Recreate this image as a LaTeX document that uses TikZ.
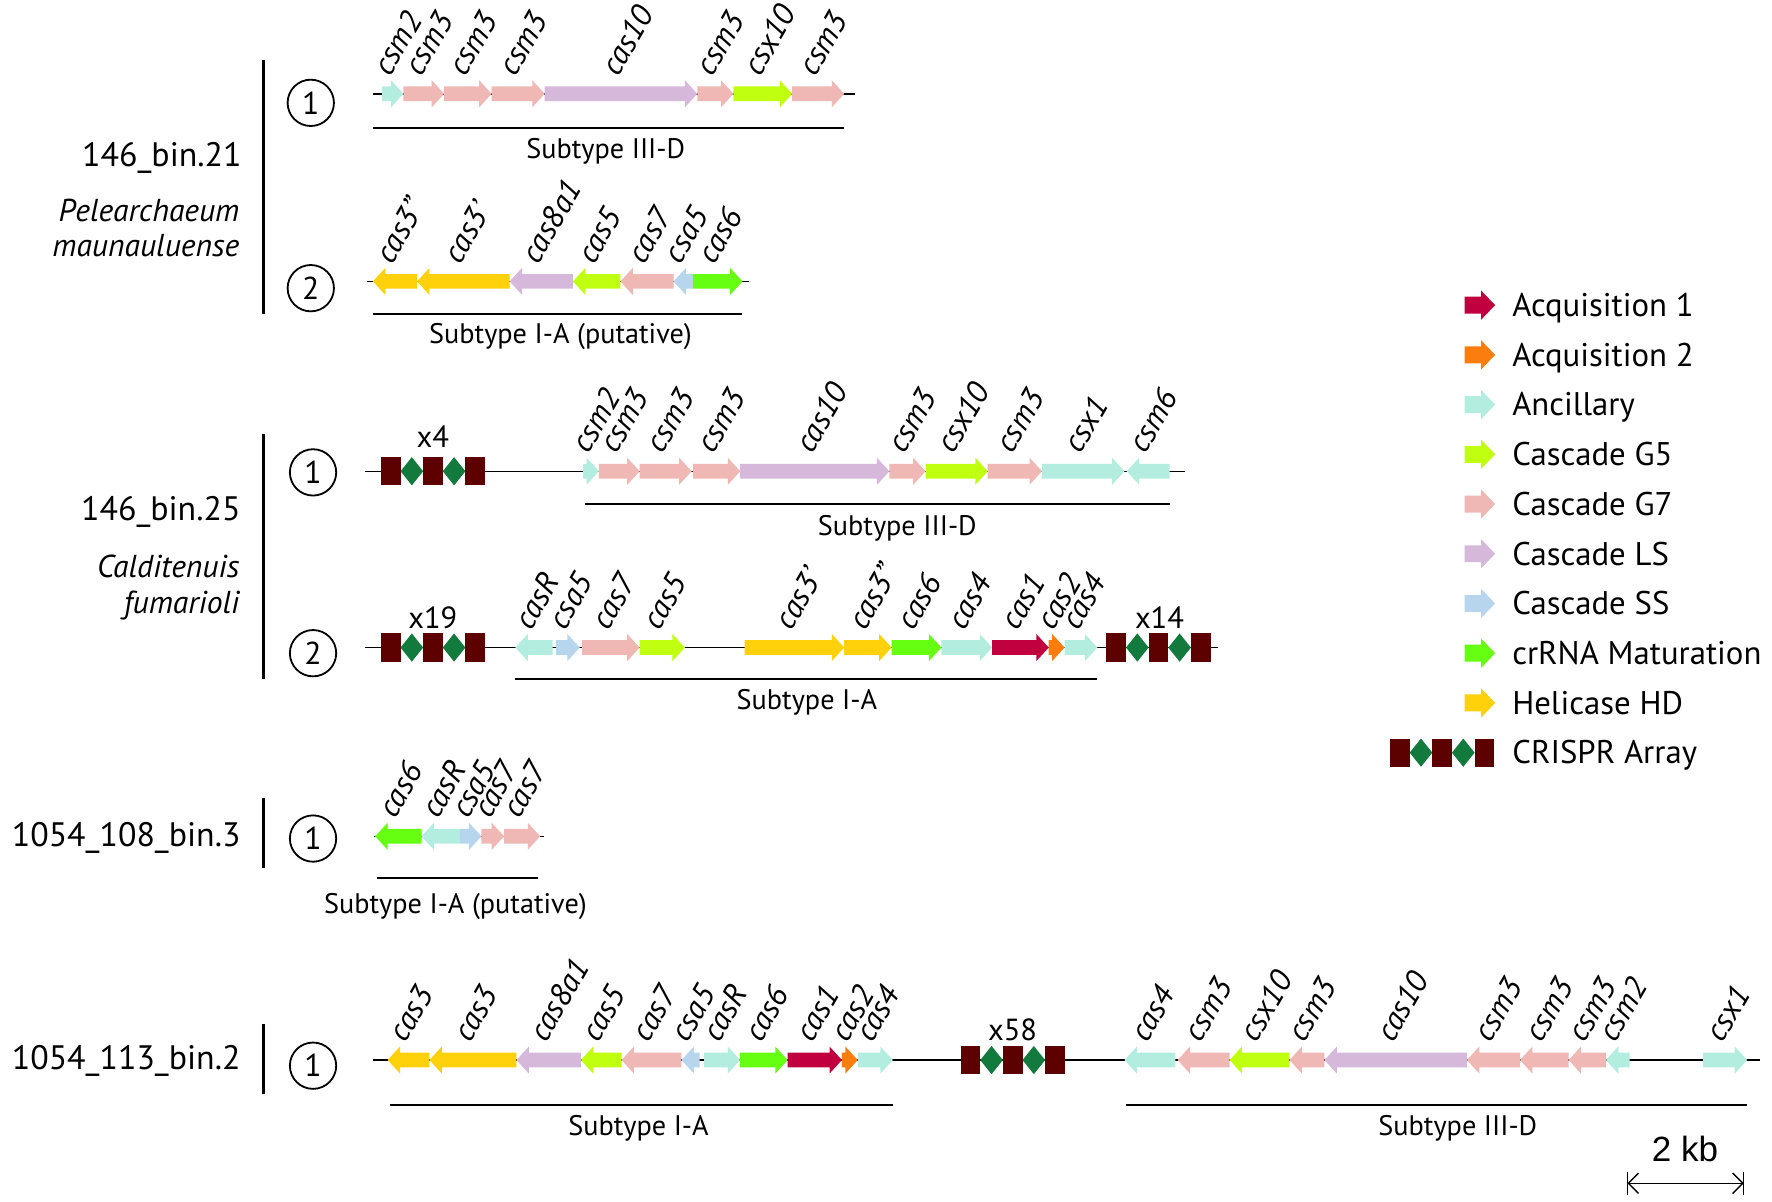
\documentclass[tikz,border=0pt]{standalone}
\usepackage{fontspec}
\setmainfont{PT Sans}
\newfontfamily\arialf{Liberation Sans}
\usetikzlibrary{arrows.meta}
\definecolor{acqA}{HTML}{C1003F}
\definecolor{acqB}{HTML}{FB7D0E}
\definecolor{anc}{HTML}{B3EDE0}
\definecolor{gfive}{HTML}{BFFF0F}
\definecolor{gseven}{HTML}{EFB8B5}
\definecolor{lsc}{HTML}{D6B8DB}
\definecolor{ssc}{HTML}{B8D5EE}
\definecolor{crr}{HTML}{66FF11}
\definecolor{hel}{HTML}{FFD10A}
\definecolor{arrR}{HTML}{5C0000}
\definecolor{arrD}{HTML}{137A3E}
\newcommand\fsz[1]{\fontsize{#1}{#1}\selectfont}
\newcommand\geneR[5]{%
 \fill[#4] (#1,{#3-6.5}) -- ({#2-11},{#3-6.5}) -- ({#2-11},{#3-12}) -- (#2,#3) -- ({#2-11},{#3+12}) -- ({#2-11},{#3+6.5}) -- (#1,{#3+6.5}) -- cycle;
 \node[glabel] at ({(#1+#2)/2-2},{#3-14}) {#5};}
\newcommand\geneL[5]{%
 \fill[#4] (#2,{#3-6.5}) -- ({#1+11},{#3-6.5}) -- ({#1+11},{#3-12}) -- (#1,#3) -- ({#1+11},{#3+12}) -- ({#1+11},{#3+6.5}) -- (#2,{#3+6.5}) -- cycle;
 \node[glabel] at ({(#1+#2)/2-2},{#3-14}) {#5};}
\newcommand\crispr[2]{%
 \fill[arrR] (#1,{#2-12.5}) rectangle ({#1+17.4},{#2+12.5});
 \fill[arrD] ({#1+17.4},#2) -- ({#1+27.4},{#2-12.5}) -- ({#1+37.4},#2) -- ({#1+27.4},{#2+12.5}) -- cycle;
 \fill[arrR] ({#1+37.4},{#2-12.5}) rectangle ({#1+54.8},{#2+12.5});
 \fill[arrD] ({#1+54.8},#2) -- ({#1+64.8},{#2-12.5}) -- ({#1+74.8},#2) -- ({#1+64.8},{#2+12.5}) -- cycle;
 \fill[arrR] ({#1+74.8},{#2-12.5}) rectangle ({#1+92.2},{#2+12.5});}
\newcommand\legarrow[3]{%
 \fill[#2] (1296,{#1-7.5}) -- (1310.5,{#1-7.5}) -- (1310.5,{#1-13}) -- (1323,#1) -- (1310.5,{#1+13}) -- (1310.5,{#1+7.5}) -- (1296,{#1+7.5}) -- cycle;
 \node[legtext] at (1338,{#1+10}) {#3};}
\begin{document}
\begin{tikzpicture}[x=1pt,y=-1pt,
  glabel/.style={rotate=60,anchor=south west,inner sep=0pt,font=\fsz{28}\itshape},
  rowline/.style={line width=1.3pt},
  subline/.style={line width=1.8pt},
  subtext/.style={anchor=base,inner sep=0pt,font=\fsz{25}},
  brk/.style={line width=2.6pt},
  circ/.style={circle,draw,line width=1.6pt,minimum size=41pt,inner sep=0pt,font=\fsz{28}},
  gname/.style={anchor=base east,inner sep=0pt,font=\fsz{30}},
  sname/.style={anchor=base east,inner sep=0pt,font=\fsz{28}\itshape},
  cnt/.style={anchor=base,inner sep=0pt,font=\fsz{27}},
  legtext/.style={anchor=base west,inner sep=0pt,font=\fsz{29}}]
\useasboundingbox[fill=white] (0,0) rectangle (1568,1063);

% ---------- left labels ----------
\node[gname] (n1) at (214,147) {146\_bin.21};
\node[sname] (s1a) at (212,196) {Pelearchaeum};
\node[sname] (s1b) at (212,227) {maunauluense};
\draw[brk] (233,53) -- (233,278);
\node[circ] (c11) at (275,91) {1};
\node[circ] (c12) at (275,255) {2};

\node[gname] (n2) at (213,461) {146\_bin.25};
\node[sname] (s2a) at (212,511) {Calditenuis};
\node[sname] (s2b) at (212,543) {fumarioli};
\draw[brk] (233,384) -- (233,601);
\node[circ] (c21) at (277,418) {1};
\node[circ] (c22) at (277,578) {2};

\node[gname] (n3) at (213,749) {1054\_108\_bin.3};
\draw[brk] (233,706) -- (233,768);
\node[circ] (c31) at (277,742) {1};

\node[gname] (n4) at (213,946) {1054\_113\_bin.2};
\draw[brk] (233,906) -- (233,968);
\node[circ] (c41) at (277,943) {1};

% ---------- row A ----------
\draw[rowline] (330,83) -- (757,83);
\geneR{338}{357}{83}{anc}{csm2}
\geneR{357}{393}{83}{gseven}{csm3}
\geneR{393}{435}{83}{gseven}{csm3}
\geneR{435}{482}{83}{gseven}{csm3}
\geneR{482}{617}{83}{lsc}{cas10}
\geneR{617}{649}{83}{gseven}{csm3}
\geneR{649}{701}{83}{gfive}{csx10}
\geneR{701}{747}{83}{gseven}{csm3}
\draw[subline] (330,113) -- (747,113);
\node[subtext] (tA) at (536,140) {Subtype III-D};

% ---------- row B ----------
\draw[rowline] (325,249) -- (663,249);
\geneL{330}{369}{249}{hel}{cas3"}
\geneL{369}{451}{249}{hel}{cas3'}
\geneL{451}{507}{249}{lsc}{cas8a1}
\geneL{507}{549}{249}{gfive}{cas5}
\geneL{549}{596}{249}{gseven}{cas7}
\geneL{596}{613}{249}{ssc}{csa5}
\geneR{613}{657}{249}{crr}{cas6}
\draw[subline] (330,278) -- (657,278);
\node[subtext] (tB) at (496,304) {Subtype I-A (putative)};

% ---------- row C ----------
\draw[rowline] (323,417) -- (1049,417);
\crispr{337}{417}
\node[cnt] (x4) at (383,396) {x4};
\geneR{516}{530}{417}{anc}{csm2}
\geneR{530}{566}{417}{gseven}{csm3}
\geneR{566}{612}{417}{gseven}{csm3}
\geneR{613}{655}{417}{gseven}{csm3}
\geneR{655}{787}{417}{lsc}{cas10}
\geneR{787}{819}{417}{gseven}{csm3}
\geneR{819}{874}{417}{gfive}{csx10}
\geneR{874}{922}{417}{gseven}{csm3}
\geneR{922}{995}{417}{anc}{csx1}
\geneL{997}{1035}{417}{anc}{csm6}
\draw[subline] (518,446) -- (1035,446);
\node[subtext] (tC) at (794,474) {Subtype III-D};

% ---------- row D ----------
\draw[rowline] (323,573) -- (1078,573);
\crispr{337}{573}
\node[cnt] (x19) at (383,556) {x19};
\crispr{979}{573}
\node[cnt] (x14) at (1026,556) {x14};
\geneL{456}{489}{573}{anc}{casR}
\geneR{492}{513}{573}{ssc}{csa5}
\geneR{515}{566}{573}{gseven}{cas7}
\geneR{566}{606}{573}{gfive}{cas5}
\geneR{659}{747}{573}{hel}{cas3'}
\geneR{747}{789}{573}{hel}{cas3"}
\geneR{789}{833}{573}{crr}{cas6}
\geneR{833}{878}{573}{anc}{cas4}
\geneR{878}{928}{573}{acqA}{cas1}
\geneR{928}{942}{573}{acqB}{cas2}
\geneR{942}{971}{573}{anc}{cas4}
\draw[subline] (456,601) -- (971,601);
\node[subtext] (tD) at (714,628) {Subtype I-A};

% ---------- row E ----------
\draw[rowline] (331,740) -- (481,740);
\geneL{332}{373}{740}{crr}{cas6}
\geneL{373}{407}{740}{anc}{casR}
\geneR{407}{426}{740}{ssc}{csa5}
\geneR{426}{446}{740}{gseven}{cas7}
\geneR{446}{478}{740}{gseven}{cas7}
\draw[subline] (334,777) -- (476,777);
\node[subtext] (tE) at (403,808) {Subtype I-A (putative)};

% ---------- row F ----------
\draw[rowline] (330,938) -- (1557,938);
\geneL{343}{380}{938}{hel}{cas3}
\geneL{380}{457}{938}{hel}{cas3}
\geneL{457}{514}{938}{lsc}{cas8a1}
\geneL{514}{550}{938}{gfive}{cas5}
\geneL{550}{603}{938}{gseven}{cas7}
\geneL{603}{619}{938}{ssc}{csa5}
\geneR{623}{655}{938}{anc}{casR}
\geneR{655}{697}{938}{crr}{cas6}
\geneR{697}{745}{938}{acqA}{cas1}
\geneR{745}{759}{938}{acqB}{cas2}
\geneR{759}{790}{938}{anc}{cas4}
\crispr{850}{938}
\node[cnt] (x58) at (896,921) {x58};
\geneL{995}{1040}{938}{anc}{cas4}
\geneL{1042}{1088}{938}{gseven}{csm3}
\geneL{1088}{1141}{938}{gfive}{csx10}
\geneL{1141}{1172}{938}{gseven}{csm3}
\geneL{1172}{1298}{938}{lsc}{cas10}
\geneL{1298}{1345}{938}{gseven}{csm3}
\geneL{1345}{1388}{938}{gseven}{csm3}
\geneL{1388}{1421}{938}{gseven}{csm3}
\geneL{1421}{1442}{938}{anc}{csm2}
\geneR{1507}{1546}{938}{anc}{csx1}
\draw[subline] (345,978) -- (790,978);
\node[subtext] (tF1) at (565,1005) {Subtype I-A};
\draw[subline] (996,978) -- (1546,978);
\node[subtext] (tF2) at (1290,1005) {Subtype III-D};

% ---------- scale bar ----------
\node[anchor=base,inner sep=0pt,font=\arialf\fsz{31}] (kb) at (1491,1028) {2 kb};
\coordinate (sbL) at (1440,1047);
\coordinate (sbR) at (1543,1047);
\draw[line width=1.2pt,{Straight Barb[length=9pt,width=18pt]}-{Straight Barb[length=9pt,width=18pt]}] (sbL) -- (sbR);
\draw[line width=1.2pt] ([yshift=-10pt]sbL) -- ([yshift=10pt]sbL);
\draw[line width=1.2pt] ([yshift=-10pt]sbR) -- ([yshift=10pt]sbR);

% ---------- legend ----------
\legarrow{270}{acqA}{Acquisition 1}
\legarrow{314}{acqB}{Acquisition 2}
\legarrow{358}{anc}{Ancillary}
\legarrow{402}{gfive}{Cascade G5}
\legarrow{446}{gseven}{Cascade G7}
\legarrow{490}{lsc}{Cascade LS}
\legarrow{534}{ssc}{Cascade SS}
\legarrow{578}{crr}{crRNA Maturation}
\legarrow{622}{hel}{Helicase HD}
\crispr{1230}{666}
\node[legtext] (lcr) at (1338,676) {CRISPR Array};
\end{tikzpicture}
\end{document}
